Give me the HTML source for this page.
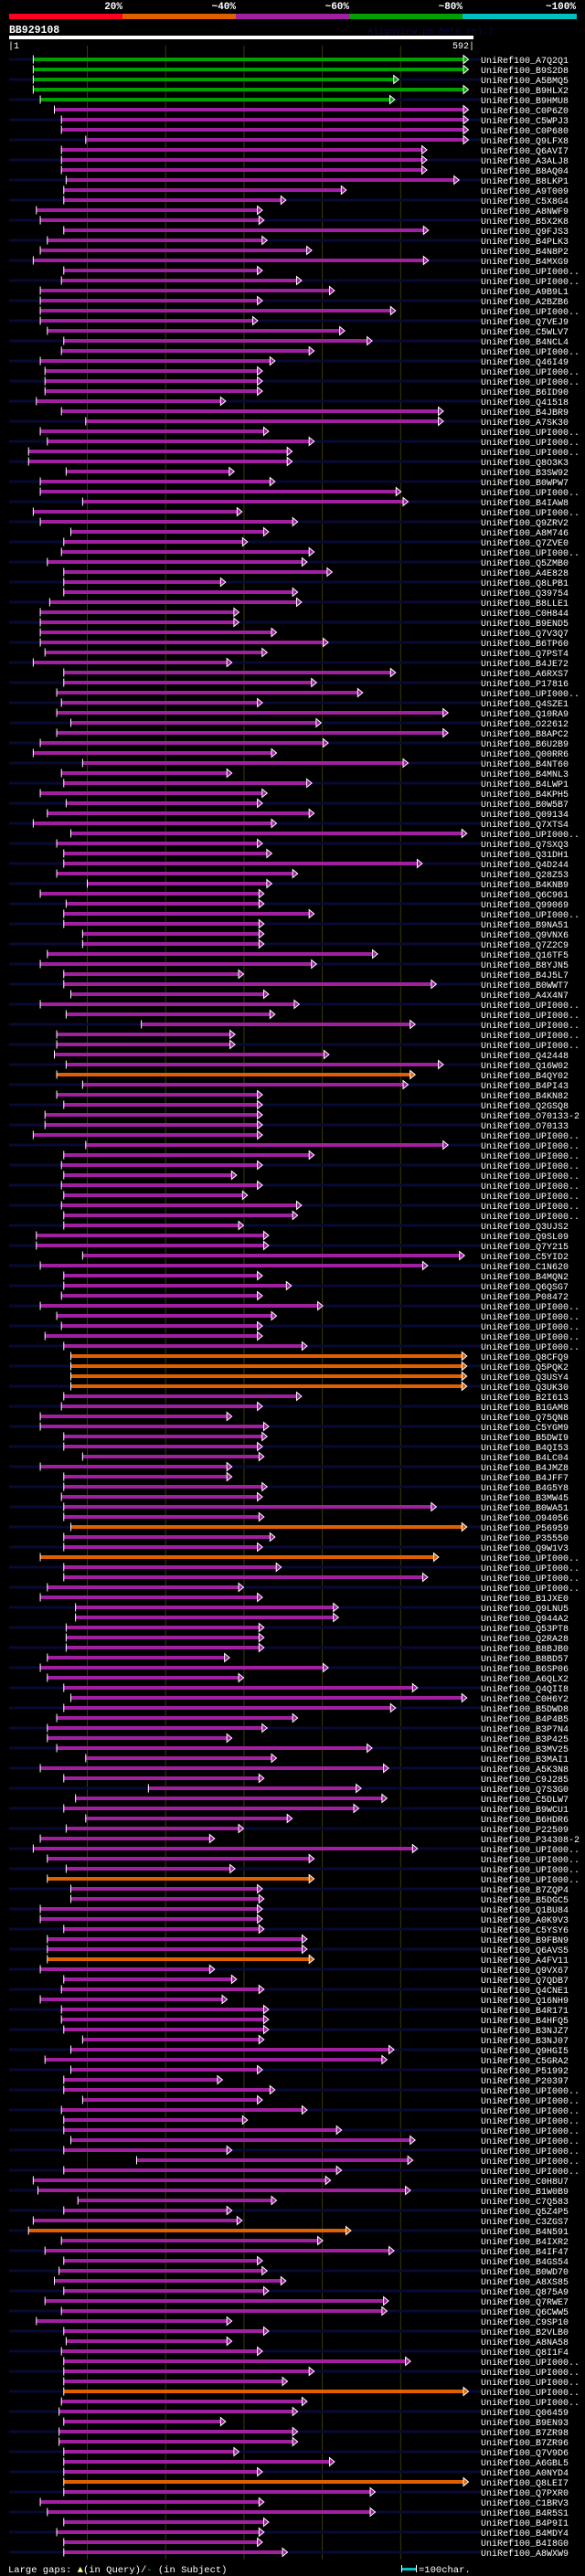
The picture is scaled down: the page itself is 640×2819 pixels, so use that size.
<!DOCTYPE html>
<html><head><meta charset="utf-8"><title>BB929108 alignment</title>
<style>
html,body{margin:0;padding:0;background:#000;}
body{width:640px;height:2819px;overflow:hidden;}
svg{display:block;}
text{font-family:"Liberation Mono",monospace;}
</style></head>
<body>
<svg id="chart" width="640" height="2819" viewBox="0 0 640 2819" xmlns="http://www.w3.org/2000/svg">
  <rect x="0" y="0" width="640" height="2819" fill="#000"/>
  <g>
    <text x="134" y="10" fill="#fff" font-size="11" font-weight="bold" text-anchor="end">20%</text>
    <text x="258" y="10" fill="#fff" font-size="11" font-weight="bold" text-anchor="end">~40%</text>
    <text x="382" y="10" fill="#fff" font-size="11" font-weight="bold" text-anchor="end">~60%</text>
    <text x="506" y="10" fill="#fff" font-size="11" font-weight="bold" text-anchor="end">~80%</text>
    <text x="630" y="10" fill="#fff" font-size="11" font-weight="bold" text-anchor="end">~100%</text>
    <rect x="10" y="15" width="124" height="6" fill="#ff0020"/>
    <rect x="134" y="15" width="124" height="6" fill="#e06000"/>
    <rect x="258" y="15" width="124" height="6" fill="#a020a0"/>
    <rect x="382" y="15" width="124" height="6" fill="#00a000"/>
    <rect x="506" y="15" width="125" height="6" fill="#00c0c0"/>
  </g>
  <text x="10" y="36" fill="#fff" font-size="11.5" font-weight="bold">BB929108</text>
  <text x="402" y="37" fill="#0a0a48" font-size="10">AlignView.pm Beta rel.7</text>
  <rect x="10" y="39" width="508" height="4" fill="#fff"/>
  <text x="9" y="53" fill="#fff" font-size="10">|1</text>
  <text x="519" y="53" fill="#fff" font-size="10" text-anchor="end">592|</text>
  <g id="grid"></g>
  <g id="rows"></g>
  <g>
    <text x="9" y="2815" fill="#fff" font-size="10.5">Large gaps: <tspan fill="#ffff80">▲</tspan>(in Query)/<tspan fill="#00c0c0">-</tspan> (in Subject)</text>
    <rect x="439" y="2810" width="16" height="3" fill="#00c0c0"/>
    <rect x="439" y="2807" width="1" height="8" fill="#fff"/>
    <rect x="455" y="2807" width="1" height="8" fill="#fff"/>
    <text x="458" y="2815" fill="#fff" font-size="10.5">=100char.</text>
  </g>
</svg>
<script>
const gridTicks = [100, 200, 300, 400, 500];
const hitIds = [
"A7Q2Q1","B9S2D8","A5BMQ5","B9HLX2","B9HMU8","C0P6Z0","C5WPJ3",
"C0P680","Q9LFX8","Q6AVI7","A3ALJ8","B8AQ04","B8LKP1","A9T009","C5X8G4","A8NWF9","B5X2K8","Q9FJS3","B4PLK3","B4N8P2","B4MXG9","UPI000..","UPI000..","A9B9L1","A2BZB6","UPI000..","Q7VEJ9","C5WLV7","B4NCL4","UPI000..","Q46I49","UPI000..","UPI000..",
"B6ID90","Q41518","B4JBR9","A7SK30","UPI000..","UPI000..","UPI000..","Q8O3K3","B3SW92","B0WPW7","UPI000..","B4IAW8","UPI000..","Q9ZRV2","A8M746","Q7ZVE0","UPI000..","Q5ZMB0","A4E828","Q8LPB1","Q39754","B8LLE1","C0H844","B9END5","Q7V3Q7","B6TP60",
"Q7PST4","B4JE72","A6RXS7","P17816","UPI000..","Q4SZE1","Q10RA9","O22612","B8APC2","B6U2B9","Q00RR6","B4NT60","B4MNL3","B4LWP1","B4KPH5","B0W5B7","Q09134","Q7XTS4","UPI000..","Q7SXQ3","Q31DH1","Q4D244","Q28Z53","B4KNB9","Q6C961","Q99069",
"UPI000..","B9NA51","Q9VNX6","Q7Z2C9","Q16TF5","B8YJN5","B4J5L7","B0WWT7","A4X4N7","UPI000..","UPI000..","UPI000..","UPI000..","UPI000..","Q42448","Q16W02","B4QY02","B4PI43","B4KN82","Q2GSQ8","O70133-2","O70133","UPI000..","UPI000..","UPI000..","UPI000..","UPI000..",
"UPI000..","UPI000..","UPI000..","UPI000..","Q3UJS2","Q9SL09","Q7Y215","C5YID2","C1N620","B4MQN2","Q6QSG7","P08472","UPI000..","UPI000..","UPI000..","UPI000..","UPI000..","Q8CFQ9","Q5PQK2","Q3USY4","Q3UK30","B2I613","B1GAM8","Q75QN8","C5YGM9","B5DWI9",
"B4QI53","B4LC04","B4JMZ8","B4JFF7","B4G5Y8","B3MW45","B0WA51","O94056","P56959","P35550","Q9W1V3","UPI000..","UPI000..","UPI000..","UPI000..","B1JXE0","Q9LNU5","Q944A2","Q53PT8","Q2RA28","B8BJB0","B8BD57","B6SP06","A6QLX2","Q4QII8","C0H6Y2","B5DWD8",
"B4P4B5","B3P7N4","B3P425","B3MV25","B3MAI1","A5K3N8","C9J285","Q7S3G0","C5DLW7","B9WCU1","B6HDR6","P22509","P34308-2","UPI000..","UPI000..","UPI000..","UPI000..","B7ZQP4","B5DGC5","Q1BU84","A0K9V3","C5YSY6","B9FBN9","Q6AVS5","A4FV11","Q9VX67",
"Q7QDB7","Q4CNE1","Q16NH9","B4R171","B4HFQ5","B3NJZ7","B3NJ07","Q9HGI5","C5GRA2","P51992","P20397","UPI000..","UPI000..","UPI000..","UPI000..","UPI000..","UPI000..","UPI000..","UPI000..","UPI000..","C0H8U7","B1W0B9","C7Q583","Q5Z4P5","C3ZGS7","B4N591",
"B4IXR2","B4IF47","B4GS54","B0WD70","A8XS85","Q875A9","Q7RWE7","Q6CWW5","C9SP10","B2VLB0","A8NA58","Q8I1F4","UPI000..","UPI000..","UPI000..","UPI000..","UPI000..","Q06459","B9EN93","B7ZR98","B7ZR96","Q7V9D6","A6GBL5","A0NYD4",
"Q8LEI7","Q7PXR0","C1BRV3","B4R5S1","B4P9I1","B4MDY4","B4I8G0","A8WXW9"];
const hitStarts = [
31,31,31,31,40,58,67,
67,98,67,67,67,73,70,70,35,40,70,49,40,31,70,67,40,40,40,40,49,70,67,40,46,46,
46,35,67,98,40,49,25,25,73,40,40,94,31,40,79,70,67,49,70,70,70,52,40,40,40,40,
46,31,70,70,61,67,61,79,61,40,31,94,67,70,40,73,49,31,79,61,70,70,61,100,40,73,
70,70,94,94,49,40,70,70,79,40,73,169,61,61,58,73,61,94,61,70,46,46,31,98,70,67,70,
67,70,67,70,70,35,35,94,40,70,70,67,40,61,67,46,70,79,79,79,79,70,67,40,40,70,
70,94,40,70,70,67,70,70,79,70,70,40,70,70,49,40,85,85,73,73,73,49,40,49,70,79,70,
61,49,49,61,98,40,70,178,85,70,98,73,40,31,49,73,49,79,79,40,40,70,49,49,49,40,
70,67,40,67,67,70,94,79,46,79,70,70,94,67,70,70,79,70,163,70,31,37,88,70,31,25,
67,46,70,64,58,70,46,67,35,70,73,67,70,70,70,70,67,64,70,64,64,70,70,70,
70,70,40,49,70,61,70,70];
const hitEnds = [
586,586,497,586,492,586,586,
586,586,533,533,533,574,430,353,323,325,535,329,386,535,323,373,415,323,493,317,428,463,389,339,323,323,
323,276,554,554,331,389,361,361,287,339,500,509,297,368,331,304,389,380,412,276,368,373,293,293,341,407,
329,284,493,392,451,323,560,398,560,407,341,509,284,386,329,323,389,341,584,323,335,527,368,335,325,325,
389,325,325,325,470,392,299,545,331,370,339,518,288,288,408,554,518,509,323,323,323,323,323,560,389,323,290,
323,304,373,368,299,331,331,581,534,323,360,323,400,341,323,323,380,584,584,584,584,373,323,284,331,329,
323,325,284,284,329,323,545,325,584,339,323,548,347,534,299,323,420,420,325,325,325,281,407,299,521,584,493,
368,329,284,463,341,484,325,449,482,446,361,299,262,521,389,288,389,323,325,323,323,325,380,380,389,262,
290,325,278,331,331,331,325,491,482,323,272,339,323,380,304,424,518,284,515,424,410,512,341,284,297,436,
400,491,323,329,353,331,484,482,284,331,284,323,512,389,355,586,380,368,276,368,368,293,415,323,
586,467,325,467,331,325,323,355];
const greenRows = [0,1,2,3,4];
const orangeRows = [101,129,130,131,132,146,149,181,189,216,232,241];

const NS = "http://www.w3.org/2000/svg";
const xScale = r => 9.8 + r * 0.857;
const rowY = i => 65 + i * 11;
const COLORS = {m:"#a020a0", g:"#009f00", o:"#e06000"};
function mk(tag, attrs){const e=document.createElementNS(NS,tag);for(const k in attrs)e.setAttribute(k,attrs[k]);return e;}

const grid = document.getElementById("grid");
gridTicks.forEach(t=>{
  const l = mk("line",{x1:xScale(t),x2:xScale(t),y1:50,y2:2801,stroke:"#3a3a08","stroke-width":1});
  
  
  grid.appendChild(l);
});

const rows = document.getElementById("rows");
hitIds.forEach((id,i)=>{
  const y = rowY(i);
  const g = mk("g",{});
  
  
  if(i%2===0){
    const bg = mk("rect",{x:10,y:y-1.5,width:516,height:3,fill:"#080a34"});
    
    
    g.appendChild(bg);
  }
  const kind = greenRows.includes(i) ? "g" : (orangeRows.includes(i) ? "o" : "m");
  const col = COLORS[kind];
  const x0 = xScale(hitStarts[i]), x1 = xScale(hitEnds[i]);
  const bar = mk("rect",{x:x0,y:y-2,width:Math.max(1,x1-x0-4),height:4,fill:col});
  
  
  g.appendChild(bar);
  const tick = mk("rect",{x:x0-0.5,y:y-4.5,width:1,height:9,fill:"#fff"});
  
  
  g.appendChild(tick);
  const arr = mk("polygon",{points:`${x1-5},${y-4.5} ${x1+0.5},${y} ${x1-5},${y+4.5}`,fill:col,stroke:"#fff","stroke-width":1});
  
  
  g.appendChild(arr);
  const t = mk("text",{x:526,y:y+4,fill:"#fff","font-size":10});
  t.textContent = "UniRef100_" + id;
  
  
  g.appendChild(t);
  rows.appendChild(g);
});
</script>
</body></html>
